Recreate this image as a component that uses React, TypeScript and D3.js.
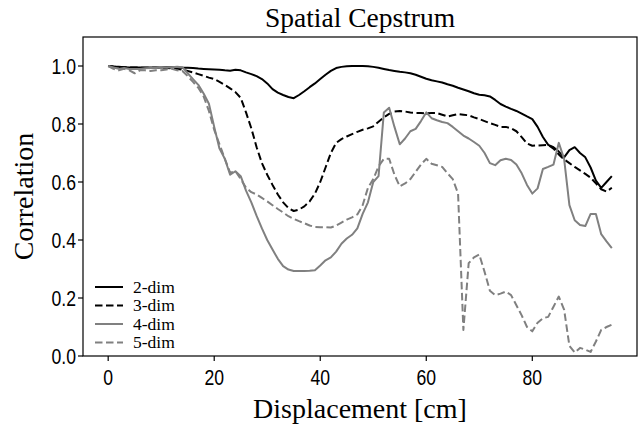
import React from 'react';
import * as d3 from 'd3';

// displacement in cm, sampled every 1 cm
const displacement = d3.range(0, 96);

const dim2 = [
  1.0, 0.998, 0.997, 0.996, 0.995, 0.995, 0.995, 0.995, 0.995, 0.995,
  0.995, 0.996, 0.996, 0.995, 0.994, 0.994, 0.993, 0.991, 0.99, 0.989,
  0.988, 0.987, 0.985, 0.984, 0.987, 0.985, 0.978, 0.972, 0.965, 0.955,
  0.94, 0.92, 0.908, 0.9, 0.893, 0.889, 0.9, 0.913, 0.927, 0.94,
  0.955, 0.97, 0.983, 0.993, 0.997, 0.999, 1.0, 1.0, 1.0, 0.999,
  0.997, 0.994, 0.99, 0.986, 0.983, 0.98, 0.978, 0.975, 0.97, 0.963,
  0.956, 0.951, 0.947, 0.943, 0.937, 0.932, 0.925, 0.919, 0.913, 0.906,
  0.901, 0.899, 0.895, 0.883, 0.869, 0.86, 0.852, 0.845, 0.836, 0.826,
  0.817, 0.79, 0.755, 0.728, 0.72, 0.705, 0.685, 0.71, 0.72, 0.7,
  0.685, 0.65, 0.605, 0.58, 0.6, 0.62,
];

const dim3 = [
  1.0, 0.998, 0.997, 0.996, 0.995, 0.995, 0.994, 0.994, 0.994, 0.994,
  0.993, 0.993, 0.992, 0.99, 0.987, 0.983, 0.978, 0.972, 0.966, 0.96,
  0.955, 0.945, 0.935, 0.923, 0.91, 0.89, 0.84, 0.785, 0.72, 0.665,
  0.625, 0.59, 0.557, 0.53, 0.51, 0.5, 0.505, 0.516, 0.533, 0.56,
  0.6, 0.65, 0.7, 0.735, 0.748, 0.757, 0.765, 0.773, 0.78, 0.785,
  0.792, 0.808, 0.823, 0.835, 0.843, 0.845, 0.843, 0.84, 0.838, 0.838,
  0.837, 0.838, 0.838, 0.832, 0.826, 0.83, 0.834, 0.832, 0.83, 0.823,
  0.817, 0.81, 0.803, 0.797, 0.79, 0.79, 0.785, 0.775, 0.755, 0.733,
  0.725, 0.726, 0.727, 0.728, 0.715, 0.695, 0.678, 0.665, 0.652, 0.64,
  0.628, 0.615, 0.595, 0.575, 0.567, 0.58,
];

const dim4 = [
  1.0, 0.995, 0.99, 0.993, 0.99, 0.99, 0.99, 0.992, 0.993, 0.993,
  0.994, 0.995, 0.996, 0.997, 0.996, 0.975, 0.955, 0.935, 0.905, 0.87,
  0.79, 0.715, 0.68, 0.625, 0.637, 0.62, 0.57, 0.53, 0.483, 0.44,
  0.4, 0.367, 0.335, 0.31, 0.298, 0.293, 0.293, 0.293, 0.294, 0.296,
  0.312, 0.33, 0.34, 0.36, 0.387, 0.405, 0.418, 0.44, 0.49, 0.53,
  0.6, 0.62, 0.84, 0.856, 0.79, 0.73, 0.75, 0.775, 0.783, 0.81,
  0.84, 0.82, 0.813, 0.807, 0.803, 0.79, 0.775, 0.76, 0.75, 0.738,
  0.725, 0.7, 0.665, 0.658, 0.675, 0.68, 0.676, 0.66, 0.63, 0.59,
  0.56, 0.578, 0.645, 0.652, 0.66, 0.735, 0.68, 0.52, 0.468, 0.452,
  0.448, 0.49, 0.49, 0.42, 0.395, 0.372,
];

const dim5 = [
  1.0, 0.99, 0.985, 0.99, 0.985, 0.975, 0.985, 0.985, 0.983, 0.985,
  0.985, 0.988, 0.99, 0.985, 0.983, 0.965, 0.945, 0.925, 0.895, 0.845,
  0.78, 0.73, 0.68, 0.632, 0.637, 0.61, 0.58, 0.565, 0.557, 0.545,
  0.533, 0.52, 0.507, 0.495, 0.482, 0.473, 0.465, 0.458, 0.45, 0.445,
  0.444, 0.444, 0.443, 0.45, 0.46, 0.47, 0.478, 0.488, 0.52, 0.58,
  0.61, 0.654, 0.68, 0.68, 0.625, 0.585, 0.595, 0.61, 0.635, 0.66,
  0.68, 0.663, 0.658, 0.652, 0.63, 0.61, 0.56, 0.09, 0.32, 0.34,
  0.35, 0.29, 0.225, 0.21, 0.215, 0.222, 0.21, 0.175, 0.14, 0.1,
  0.085, 0.115, 0.13, 0.135, 0.17, 0.205, 0.16, 0.035, 0.012, 0.028,
  0.022, 0.014, 0.05, 0.09, 0.1, 0.108,
];

const seriesNames = ['2-dim', '3-dim', '4-dim', '5-dim'];
const seriesValues = [dim2, dim3, dim4, dim5];
const seriesColors = ['#000000', '#000000', '#808080', '#808080'];
const seriesDashes = ['none', '7.5,3.5', 'none', '7.5,3.5'];

const xTicks = [0, 20, 40, 60, 80];
const yTicks = [0, 0.2, 0.4, 0.6, 0.8, 1.0];

const W = 641;
const H = 428;
const margin = { top: 37, right: 4, bottom: 72, left: 83 };

const serif = '"Liberation Serif", "DejaVu Serif", serif';
const tickFont = '"Liberation Sans", Arial, sans-serif';
const narrow = 0.8; // tick labels in the reference are a condensed sans

const App = () => {
  const innerW = W - margin.left - margin.right;
  const innerH = H - margin.top - margin.bottom;

  const x = d3.scaleLinear().domain([-4.75, 99.75]).range([0, innerW]);
  const y = d3.scaleLinear().domain([0, 1.1]).range([innerH, 0]);

  const line = d3.line<number>()
    .x((d, i) => x(displacement[i]))
    .y(d => y(d));

  return (
    <svg width={W} height={H} style={{ position: 'absolute', left: 0, top: 0, background: '#fff' }}>
      <text x={margin.left + innerW / 2} y={27} textAnchor="middle"
        fontFamily={serif} fontSize={27.5} fill="#000">Spatial Cepstrum</text>

      <g transform={`translate(${margin.left},${margin.top})`}>
        <defs>
          <clipPath id="plot-clip">
            <rect x={0} y={0} width={innerW} height={innerH} />
          </clipPath>
        </defs>

        <g clipPath="url(#plot-clip)">
          {seriesValues.map((vals, i) => (
            <path key={seriesNames[i]} d={line(vals) || ''} fill="none"
              stroke={seriesColors[i]} strokeWidth={2}
              strokeDasharray={seriesDashes[i]} strokeLinejoin="round" />
          ))}
        </g>

        {/* frame */}
        <rect x={0} y={0} width={innerW} height={innerH} fill="none" stroke="#000" strokeWidth={1.2} />

        {/* x axis */}
        {xTicks.map(t => (
          <g key={'x' + t} transform={`translate(${x(t)},${innerH})`}>
            <line y1={0} y2={5} stroke="#000" strokeWidth={1.2} />
            <text transform={`translate(0,29) scale(${narrow},1)`} textAnchor="middle"
              fontFamily={tickFont} fontSize={22} fill="#000">{t}</text>
          </g>
        ))}

        {/* y axis */}
        {yTicks.map(t => (
          <g key={'y' + t} transform={`translate(0,${y(t)})`}>
            <line x1={0} x2={-5} stroke="#000" strokeWidth={1.2} />
            <text transform={`translate(-7,0) scale(${narrow},1)`} dy="0.36em" textAnchor="end"
              fontFamily={tickFont} fontSize={22} fill="#000">{t.toFixed(1)}</text>
          </g>
        ))}

        {/* legend */}
        {seriesNames.map((name, i) => (
          <g key={'leg' + name} transform={`translate(12,${250 + i * 18.5})`}>
            <line x1={0} x2={28} y1={0} y2={0} stroke={seriesColors[i]} strokeWidth={2}
              strokeDasharray={seriesDashes[i]} />
            <text x={38} dy="0.33em" fontFamily={serif} fontSize={17.5} fill="#000">{name}</text>
          </g>
        ))}
      </g>

      <text x={margin.left + innerW / 2} y={418} textAnchor="middle"
        fontFamily={serif} fontSize={28} fill="#000">Displacement [cm]</text>
      <text transform={`translate(33,${margin.top + innerH / 2}) rotate(-90)`} textAnchor="middle"
        fontFamily={serif} fontSize={28} fill="#000">Correlation</text>
    </svg>
  );
};

export default App;
